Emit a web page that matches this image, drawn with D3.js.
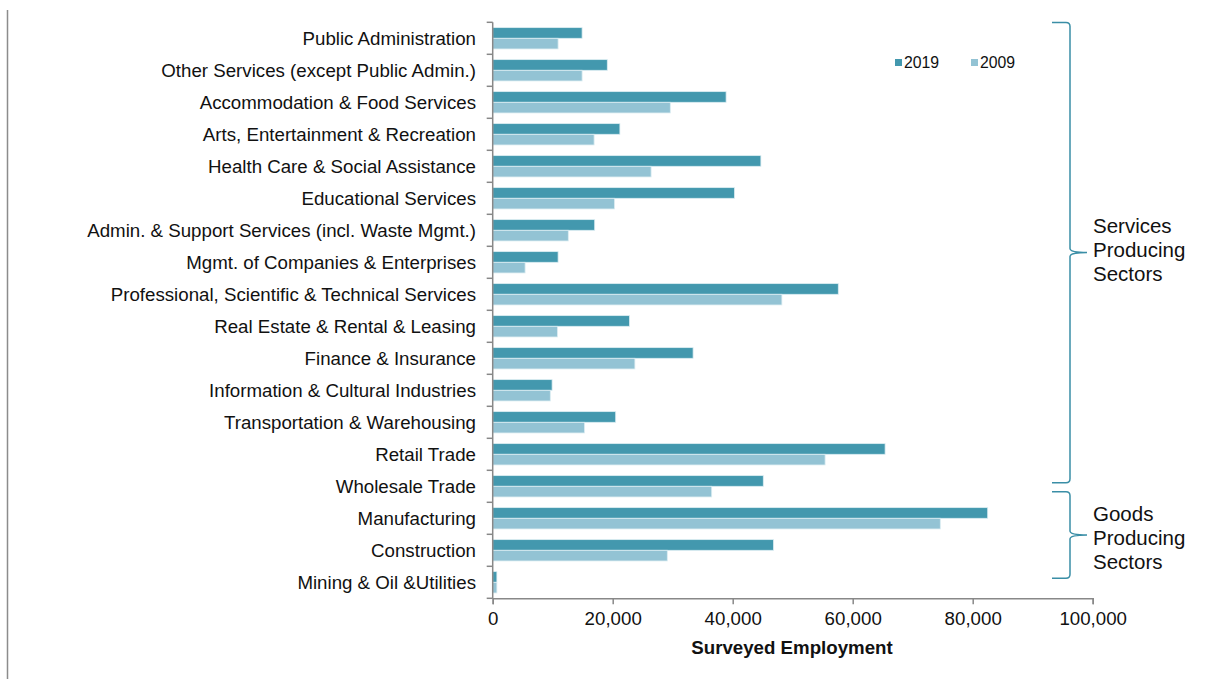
<!DOCTYPE html>
<html>
<head>
<meta charset="utf-8">
<script src="https://cdn.jsdelivr.net/npm/d3@7"></script>
<style>
  html, body { margin: 0; padding: 0; background: #fff; }
  svg { display: block; font-family: "Liberation Sans", Arial, sans-serif; }
</style>
</head>
<body>
<svg id="chart" width="1213" height="679"></svg>
<script>
// Industry sectors, top to bottom
const categories = [
  "Public Administration",
  "Other Services (except Public Admin.)",
  "Accommodation & Food Services",
  "Arts, Entertainment & Recreation",
  "Health Care & Social Assistance",
  "Educational Services",
  "Admin. & Support Services (incl. Waste Mgmt.)",
  "Mgmt. of Companies & Enterprises",
  "Professional, Scientific & Technical Services",
  "Real Estate & Rental & Leasing",
  "Finance & Insurance",
  "Information & Cultural Industries",
  "Transportation & Warehousing",
  "Retail Trade",
  "Wholesale Trade",
  "Manufacturing",
  "Construction",
  "Mining & Oil &Utilities"
];

const seriesNames = ["2019", "2009"];

// Surveyed employment by sector
const values2019 = [14900, 19100, 38900, 21200, 44700, 40300, 17000, 10900, 57600, 22800,
                    33400, 9900, 20500, 65400, 45100, 82500, 46800, 700];
const values2009 = [10900, 14900, 29600, 16900, 26400, 20300, 12600, 5400, 48200, 10800,
                    23700, 9600, 15300, 55400, 36500, 74600, 29100, 700];

const xTicks = [0, 20000, 40000, 60000, 80000, 100000];
const xTitle = "Surveyed Employment";

// Sector groupings shown with braces on the right
const groupLabels = [["Services", "Producing", "Sectors"], ["Goods", "Producing", "Sectors"]];

const colors = { "2019": "#4398ae", "2009": "#93c3d4" };

const svg = d3.select("#chart");

const x = d3.scaleLinear().domain([0, 100000]).range([492.7, 1092.7]);
const y0 = d3.scaleBand().domain(categories).range([22.3, 598.3]).padding(0);
const y1 = d3.scaleBand().domain(seriesNames).range([0, y0.bandwidth()])
  .paddingInner(0).paddingOuter(0.5);

const rows = categories.map((c, i) => ({ cat: c, "2019": values2019[i], "2009": values2009[i] }));

const fontSize = 18.7;

// Page frame line at the left edge
svg.append("line")
  .attr("x1", 7.5).attr("x2", 7.5).attr("y1", 10).attr("y2", 679)
  .attr("stroke", "#8c8c8c").attr("stroke-width", 1.5);

// Bars
const groupsSel = svg.append("g").selectAll("g.row")
  .data(rows).join("g")
  .attr("class", "row")
  .attr("transform", d => `translate(0,${y0(d.cat)})`);

groupsSel.selectAll("rect")
  .data(d => seriesNames.map(s => ({ s, v: d[s] })))
  .join("rect")
  .attr("x", x(0))
  .attr("y", d => y1(d.s))
  .attr("width", d => x(d.v) - x(0))
  .attr("height", y1.bandwidth())
  .attr("fill", d => colors[d.s])
  .attr("stroke", "#dcedf2")
  .attr("stroke-width", 0.8);

// Y axis: line, ticks at band boundaries, category labels
const axisColor = "#888888";
const yAxis = svg.append("g");
yAxis.append("line")
  .attr("x1", x(0)).attr("x2", x(0))
  .attr("y1", y0.range()[0]).attr("y2", y0.range()[1])
  .attr("stroke", axisColor).attr("stroke-width", 1.5);
const boundaries = categories.map(c => y0(c)).concat([y0.range()[1]]);
yAxis.selectAll("line.tick").data(boundaries).join("line")
  .attr("class", "tick")
  .attr("x1", x(0) - 6).attr("x2", x(0))
  .attr("y1", d => d).attr("y2", d => d)
  .attr("stroke", axisColor).attr("stroke-width", 1.5);
yAxis.selectAll("text").data(categories).join("text")
  .attr("x", 476)
  .attr("y", d => y0(d) + y0.bandwidth() / 2)
  .attr("dy", "0.35em")
  .attr("text-anchor", "end")
  .attr("font-size", fontSize)
  .attr("fill", "#111")
  .text(d => d);

// X axis
const xAxis = svg.append("g").attr("transform", `translate(0,${y0.range()[1]})`)
  .call(d3.axisBottom(x).tickValues(xTicks).tickFormat(d3.format(",")).tickSizeOuter(0).tickSize(6).tickPadding(7));
xAxis.select(".domain").attr("stroke", axisColor).attr("stroke-width", 1.5);
xAxis.selectAll(".tick line").attr("stroke", axisColor).attr("stroke-width", 1.5);
xAxis.selectAll(".tick text")
  .attr("font-size", fontSize)
  .attr("font-family", "Liberation Sans, Arial, sans-serif")
  .attr("fill", "#111");

svg.append("text")
  .attr("x", 792).attr("y", 654)
  .attr("text-anchor", "middle")
  .attr("font-size", fontSize).attr("font-weight", "bold")
  .attr("fill", "#111")
  .text(xTitle);

// Legend
const legend = svg.append("g");
const legendX = { "2019": 895, "2009": 971 };
seriesNames.forEach(s => {
  legend.append("rect")
    .attr("x", legendX[s]).attr("y", 59)
    .attr("width", 7).attr("height", 7)
    .attr("fill", colors[s]);
  legend.append("text")
    .attr("x", legendX[s] + 9).attr("y", 62.5)
    .attr("dy", "0.35em")
    .attr("font-size", 15.8)
    .attr("fill", "#111")
    .text(s);
});

// Braces marking sector groups
const braceColor = "#3a8ea6";
function bracePath(xl, xv, xt, top, bottom) {
  const mid = (top + bottom) / 2;
  const r = 4;
  return `M${xl},${top} L${xv - r},${top} Q${xv},${top} ${xv},${top + r}` +
    ` L${xv},${mid - r} Q${xv},${mid} ${xt},${mid}` +
    ` Q${xv},${mid} ${xv},${mid + r}` +
    ` L${xv},${bottom - r} Q${xv},${bottom} ${xv - r},${bottom} L${xl},${bottom}`;
}
const braceSpans = [[22.5, 482.7], [491.7, 578.3]];
const labelCentres = [250, 538];
braceSpans.forEach(([top, bottom], gi) => {
  svg.append("path")
    .attr("d", bracePath(1052, 1070, 1087, top, bottom))
    .attr("fill", "none")
    .attr("stroke", braceColor)
    .attr("stroke-width", 1.5);
  const t = svg.append("text")
    .attr("font-size", 20.5)
    .attr("fill", "#111");
  groupLabels[gi].forEach((ln, i) => {
    t.append("tspan")
      .attr("x", 1093)
      .attr("y", labelCentres[gi] + (i - 1) * 24)
      .attr("dy", "0.35em")
      .text(ln);
  });
});
</script>
</body>
</html>
